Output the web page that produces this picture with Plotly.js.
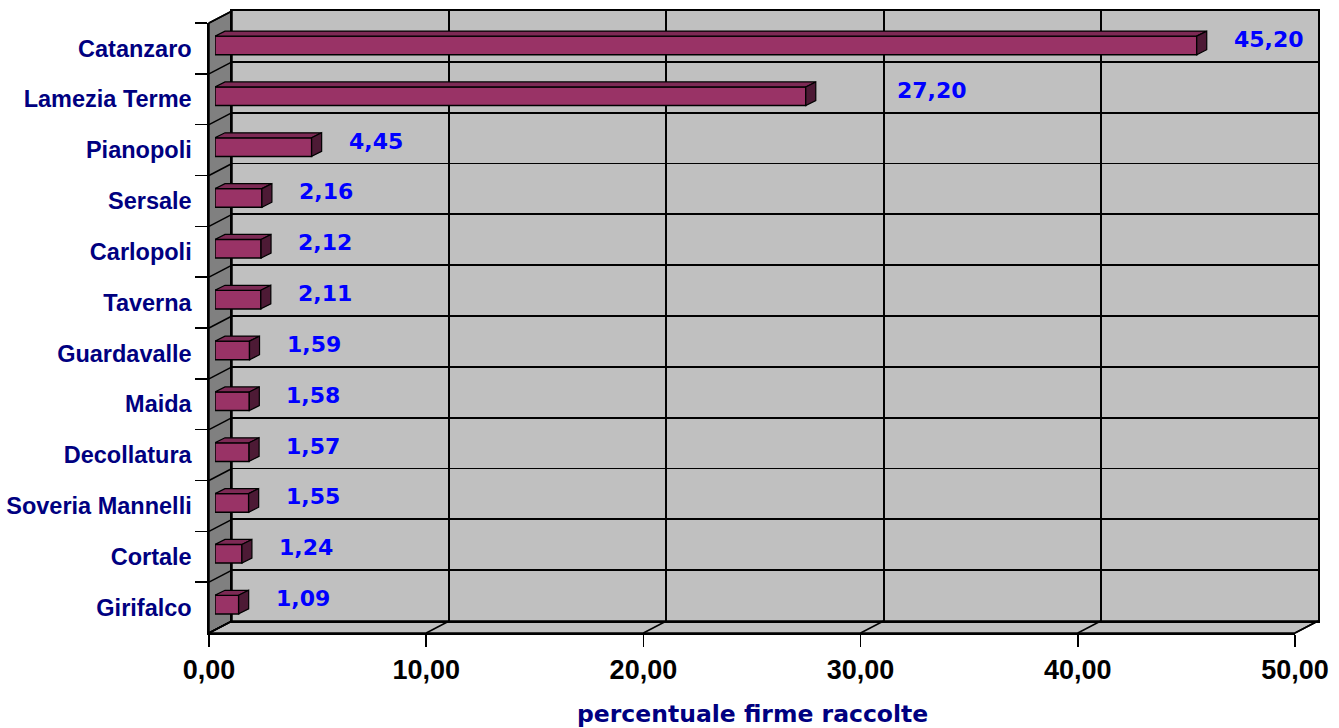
<!DOCTYPE html>
<html><head><meta charset="utf-8">
<script src="https://cdn.plot.ly/plotly-3.0.1.min.js"></script>
<style>html,body{margin:0;padding:0;background:#fff}#chart{width:1339px;height:728px}</style>
</head><body><div id="chart"></div>
<script>
// ---- data ----
const comuni = ["Catanzaro","Lamezia Terme","Pianopoli","Sersale","Carlopoli","Taverna","Guardavalle","Maida","Decollatura","Soveria Mannelli","Cortale","Girifalco"];
const percentuali = [45.20, 27.20, 4.45, 2.16, 2.12, 2.11, 1.59, 1.58, 1.57, 1.55, 1.24, 1.09];
const xTicks = [0, 10, 20, 30, 40, 50];
const xTitle = "percentuale firme raccolte";

// ---- geometry (pixels) ----
const W = 1339, H = 728;
const FRONT = {l: 209, r: 1295, t: 23, b: 633};
const BACKOFF = {dx: 23, dy: -12};
const BAROFF = {dx: 6, dy: -3};
const X_MAX = 50;
const fx = p => p / W;
const fy = p => 1 - p / H;
const n = comuni.length;
const rowPx = (FRONT.b - FRONT.t) / n;
const barPxPerUnit = (FRONT.r - FRONT.l) / X_MAX;
const BAR_FRAC = 0.366;
const BAR_DEPTH = {dx: 10, dy: 5};

const BACK = {l: FRONT.l + BACKOFF.dx, r: FRONT.r + BACKOFF.dx, t: FRONT.t + BACKOFF.dy, b: FRONT.b + BACKOFF.dy};
const BARP = {l: FRONT.l + BAROFF.dx, r: FRONT.r + BAROFF.dx, t: FRONT.t + BAROFF.dy, b: FRONT.b + BAROFF.dy};

const fmt = v => v.toFixed(2).replace('.', ',');
const P = (x, y) => fx(x) + ',' + fy(y);

const shapes = [];
// back wall
shapes.push({type: 'rect', layer: 'below', xref: 'paper', yref: 'paper',
  x0: fx(BACK.l), x1: fx(BACK.r), y0: fy(BACK.b), y1: fy(BACK.t),
  fillcolor: '#c0c0c0', line: {width: 0}});
// left wall
shapes.push({type: 'path', layer: 'below', xref: 'paper', yref: 'paper',
  path: `M${P(FRONT.l, FRONT.t)} L${P(BACK.l, BACK.t)} L${P(BACK.l, BACK.b)} L${P(FRONT.l, FRONT.b)} Z`,
  fillcolor: '#808080', line: {color: '#000', width: 1.5}});
// floor
shapes.push({type: 'path', layer: 'below', xref: 'paper', yref: 'paper',
  path: `M${P(FRONT.l, FRONT.b)} L${P(FRONT.r, FRONT.b)} L${P(BACK.r, BACK.b)} L${P(BACK.l, BACK.b)} Z`,
  fillcolor: '#c0c0c0', line: {color: '#000', width: 1.5}});
// floor gridlines
xTicks.forEach(t => {
  const xf = FRONT.l + t * barPxPerUnit;
  shapes.push({type: 'line', layer: 'below', xref: 'paper', yref: 'paper',
    x0: fx(xf), y0: fy(FRONT.b), x1: fx(xf + BACKOFF.dx), y1: fy(BACK.b),
    line: {color: '#000', width: 1.5}});
});
// left wall gridlines
for (let k = 0; k <= n; k++) {
  const yf = FRONT.t + k * rowPx;
  shapes.push({type: 'line', layer: 'below', xref: 'paper', yref: 'paper',
    x0: fx(FRONT.l), y0: fy(yf), x1: fx(BACK.l), y1: fy(yf + BACKOFF.dy),
    line: {color: '#000', width: 1.5}});
}
// 3D faces of bars
const hp = BAR_FRAC * rowPx / 2;
const dX = BAR_DEPTH.dx / barPxPerUnit;
comuni.forEach((c, i) => {
  const v = percentuali[i];
  shapes.push({type: 'path', xref: 'x2', yref: 'y2', ysizemode: 'pixel', yanchor: c,
    path: `M0,${hp} L${v},${hp} L${v + dX},${hp + BAR_DEPTH.dy} L${dX},${hp + BAR_DEPTH.dy} Z`,
    fillcolor: '#7d2a55', line: {color: '#000', width: 1.2}});
  shapes.push({type: 'path', xref: 'x2', yref: 'y2', ysizemode: 'pixel', yanchor: c,
    path: `M${v},${hp} L${v + dX},${hp + BAR_DEPTH.dy} L${v + dX},${-hp + BAR_DEPTH.dy} L${v},${-hp} Z`,
    fillcolor: '#4d1a35', line: {color: '#000', width: 1.2}});
});

// data labels
const LABEL_GAP = 35;
const labelNudge = {"Lamezia Terme": 54};
const annotations = comuni.map((c, i) => ({
  xref: 'x2', yref: 'y2', x: percentuali[i], y: c, text: fmt(percentuali[i]),
  showarrow: false, xanchor: 'left', yanchor: 'middle',
  xshift: LABEL_GAP + (labelNudge[c] || 0), yshift: 6,
  font: {family: 'DejaVu Sans, Verdana, sans-serif', size: 22, color: '#0000ff', weight: 'bold'}
}));
annotations.push({xref: 'paper', yref: 'paper', x: fx((FRONT.l + FRONT.r) / 2), y: fy(714),
  text: xTitle, showarrow: false, xanchor: 'center', yanchor: 'middle',
  font: {family: 'DejaVu Sans, Verdana, sans-serif', size: 23.5, color: '#000080', weight: 'bold'}});

const traces = [
  {type: 'scatter', x: [], y: [], xaxis: 'x', yaxis: 'y', hoverinfo: 'skip'},
  {type: 'bar', orientation: 'h', x: percentuali, y: comuni, xaxis: 'x2', yaxis: 'y2',
   width: BAR_FRAC, marker: {color: '#993366', line: {color: '#000', width: 1.5}}, hoverinfo: 'skip'},
  {type: 'scatter', x: [], y: [], xaxis: 'x3', yaxis: 'y3', hoverinfo: 'skip'}
];

const gridTicksY = [];
for (let k = 1; k < n; k++) gridTicksY.push(k);

const layout = {
  width: W, height: H, margin: {l: 0, r: 0, t: 0, b: 0},
  paper_bgcolor: '#ffffff', plot_bgcolor: 'rgba(0,0,0,0)',
  showlegend: false, separators: ',.',
  font: {family: 'Liberation Sans, Arial, sans-serif'},
  xaxis: {domain: [fx(BACK.l), fx(BACK.r)], range: [0, X_MAX], tickvals: xTicks, anchor: 'y',
    showgrid: true, gridcolor: '#000', gridwidth: 2, zeroline: false,
    showline: true, mirror: true, linecolor: '#000', linewidth: 2,
    showticklabels: false, ticks: '', fixedrange: true},
  yaxis: {domain: [fy(BACK.b), fy(BACK.t)], range: [0, n], tickvals: gridTicksY, anchor: 'x',
    showgrid: true, gridcolor: '#000', gridwidth: 1.8, zeroline: false,
    showline: true, mirror: true, linecolor: '#000', linewidth: 2,
    showticklabels: false, ticks: '', fixedrange: true},
  xaxis2: {domain: [fx(BARP.l), fx(BARP.r)], range: [0, X_MAX], anchor: 'y2', visible: false, fixedrange: true},
  yaxis2: {domain: [fy(BARP.b), fy(BARP.t)], type: 'category', categoryorder: 'array', categoryarray: comuni,
    range: [n - 0.5, -0.5], anchor: 'x2', visible: false, fixedrange: true},
  xaxis3: {domain: [fx(FRONT.l), fx(FRONT.r)], range: [0, X_MAX], tickvals: xTicks, tickformat: '.2f',
    anchor: 'y3', ticks: 'outside', ticklen: 12, tickwidth: 1.6, tickcolor: '#000',
    showline: true, linecolor: '#000', linewidth: 1.6, showgrid: false, zeroline: false,
    tickfont: {family: 'Liberation Sans Narrow, Arial Narrow, Liberation Sans, sans-serif', size: 27, color: '#000', weight: 'bold'},
    fixedrange: true},
  yaxis3: {domain: [fy(FRONT.b), fy(FRONT.t)], type: 'category', categoryorder: 'array', categoryarray: comuni,
    range: [n - 0.5, -0.5], anchor: 'x3', tickson: 'boundaries', ticks: 'outside', ticklen: 12,
    tickwidth: 1.6, tickcolor: '#000', showline: true, linecolor: '#000', linewidth: 1.6,
    showgrid: false, zeroline: false, ticklabelstandoff: 11,
    tickfont: {family: 'Liberation Sans, Arial, sans-serif', size: 23.5, color: '#000080', weight: 'bold'},
    fixedrange: true},
  shapes: shapes,
  annotations: annotations
};

Plotly.newPlot('chart', traces, layout, {displayModeBar: false, staticPlot: true});
</script>
</body></html>
